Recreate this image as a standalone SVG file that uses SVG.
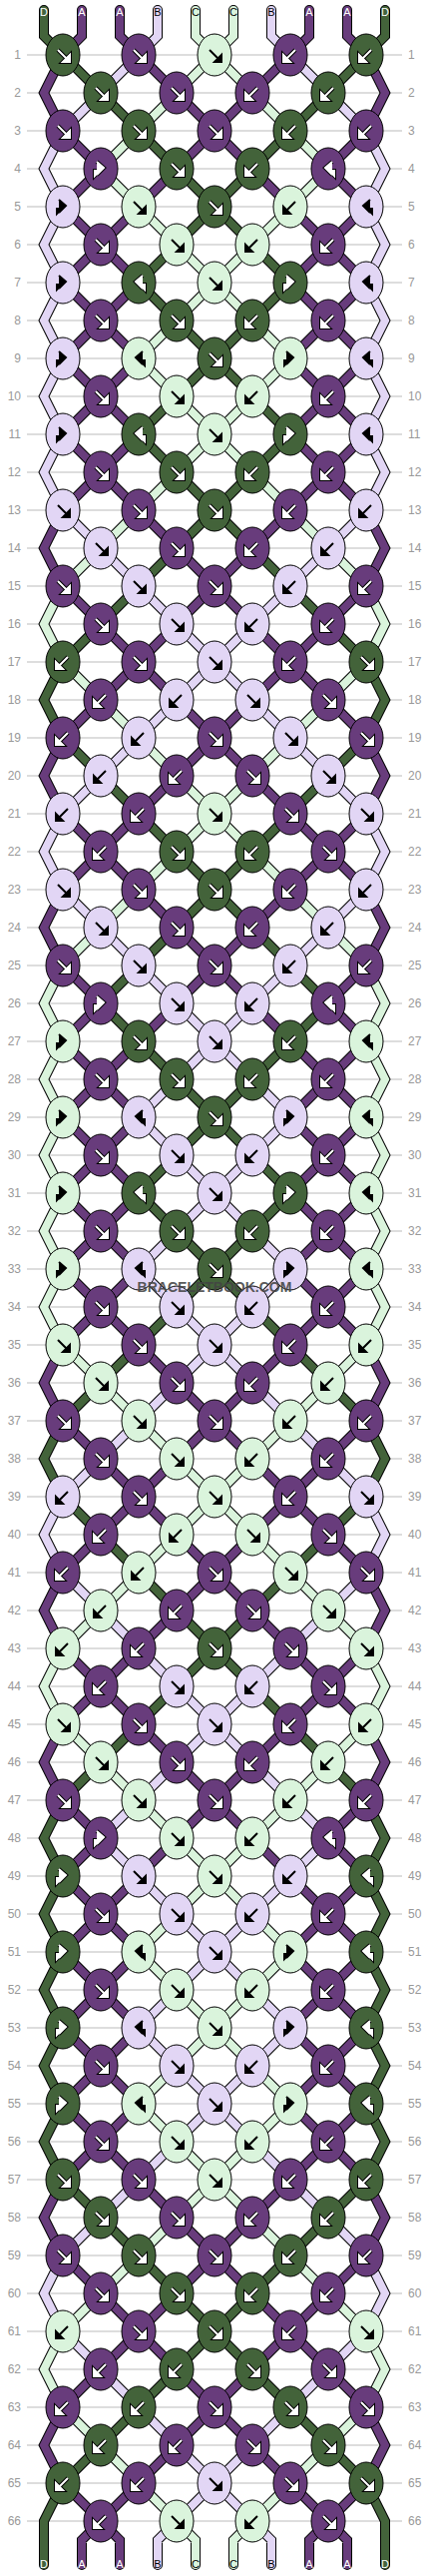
<svg xmlns="http://www.w3.org/2000/svg" xmlns:xlink="http://www.w3.org/1999/xlink" width="430" height="2580" viewBox="0 0 430 2580">
<style>
text{font-family:"Liberation Sans",Arial,sans-serif}
.n{font-size:12px;fill:#999}
.lb{font-size:11px;text-anchor:middle}
.aG{--a:#43633A}.aP{--a:#683C7C}.aL{--a:#E2D6F5}.aM{--a:#DAF4DC}
.bG{--b:#43633A}.bP{--b:#683C7C}.bL{--b:#E2D6F5}.bM{--b:#DAF4DC}
.cG{--c:#43633A}.cP{--c:#683C7C}.cL{--c:#E2D6F5}.cM{--c:#DAF4DC}
.dG{--d:#43633A}.dP{--d:#683C7C}.dL{--d:#E2D6F5}.dM{--d:#DAF4DC}
.eG{--e:#43633A}.eP{--e:#683C7C}.eL{--e:#E2D6F5}.eM{--e:#DAF4DC}
</style>
<defs>
<path id="o1" d="M63 0l-19 38 19 38M367 0l19 38-19 38"/>
<path id="o2" d="M63 0l38 38M367 0l-38 38"/>
<path id="o3" d="M139 0l-38 38M291 0l38 38"/>
<path id="o4" d="M139 0l38 38M291 0l-38 38"/>
<path id="o5" d="M215 0l-38 38M215 0l38 38"/>
<path id="e2" d="M101 0l-38 38M329 0l38 38"/>
<path id="e3" d="M101 0l38 38M329 0l-38 38"/>
<path id="e4" d="M177 0l-38 38M253 0l38 38"/>
<path id="e5" d="M177 0l38 38M253 0l-38 38"/>
<g id="O" fill="none" stroke-linecap="round">
<g stroke="#000" stroke-width="10"><use href="#o1"/><use href="#o2"/><use href="#o3"/><use href="#o4"/><use href="#o5"/></g>
<g stroke-width="8"><use href="#o1" style="stroke:var(--a)"/><use href="#o2" style="stroke:var(--b)"/><use href="#o3" style="stroke:var(--c)"/><use href="#o4" style="stroke:var(--d)"/><use href="#o5" style="stroke:var(--e)"/></g>
</g>
<g id="E" fill="none" stroke-linecap="round">
<g stroke="#000" stroke-width="10"><use href="#e2"/><use href="#e3"/><use href="#e4"/><use href="#e5"/></g>
<g stroke-width="8"><use href="#e2" style="stroke:var(--b)"/><use href="#e3" style="stroke:var(--c)"/><use href="#e4" style="stroke:var(--d)"/><use href="#e5" style="stroke:var(--e)"/></g>
</g>
<path id="tG" d="M44 10V36L63 55M386 10V36L367 55M63 2487L44 2525V2569M367 2487L386 2525V2569"/>
<path id="tP" d="M82 10V36L63 55M120 10V36L139 55M310 10V36L291 55M348 10V36L367 55M63 2487l38 38M367 2487l-38 38M139 2487l-38 38M291 2487l38 38M101 2525l-19 19V2569M101 2525l19 19V2569M329 2525l-19 19V2569M329 2525l19 19V2569"/>
<path id="tL" d="M158 10V36L139 55M272 10V36L291 55M215 2487l-38 38M215 2487l38 38M177 2525l-19 19V2569M253 2525l19 19V2569"/>
<path id="tM" d="M196 10V36L215 55M234 10V36L215 55M139 2487l38 38M291 2487l-38 38M177 2525l19 19V2569M253 2525l-19 19V2569"/>
<path id="aF" d="M-5-5L4 4M7 0V7H0Z"/>
<path id="aB" d="M5-5L-4 4M-7 0V7H0Z"/>
<path id="aX" d="M-4-7L3-1-4 6M-6 7V2H-1Z"/>
<path id="aY" d="M4-7L-3-1 4 6M6 7V2H1Z"/>
<g id="wF"><use href="#aF" fill="#000" stroke="#000" stroke-width="4"/><use href="#aF" fill="#fff" stroke="#fff" stroke-width="2"/></g>
<g id="wB"><use href="#aB" fill="#000" stroke="#000" stroke-width="4"/><use href="#aB" fill="#fff" stroke="#fff" stroke-width="2"/></g>
<g id="wX"><use href="#aX" fill="#000" stroke="#000" stroke-width="4"/><use href="#aX" fill="#fff" stroke="#fff" stroke-width="2"/></g>
<g id="wY"><use href="#aY" fill="#000" stroke="#000" stroke-width="4"/><use href="#aY" fill="#fff" stroke="#fff" stroke-width="2"/></g>
<ellipse id="eG" rx="17" ry="21" fill="#43633A" stroke="#000"/>
<ellipse id="eP" rx="17" ry="21" fill="#683C7C" stroke="#000"/>
<ellipse id="eL" rx="17" ry="21" fill="#E2D6F5" stroke="#000"/>
<ellipse id="eM" rx="17" ry="21" fill="#DAF4DC" stroke="#000"/>
<g id="GF"><use href="#eG"/><use href="#wF"/></g>
<g id="GB"><use href="#eG"/><use href="#wB"/></g>
<g id="GX"><use href="#eG"/><use href="#wX"/></g>
<g id="GY"><use href="#eG"/><use href="#wY"/></g>
<g id="PF"><use href="#eP"/><use href="#wF"/></g>
<g id="PB"><use href="#eP"/><use href="#wB"/></g>
<g id="PX"><use href="#eP"/><use href="#wX"/></g>
<g id="PY"><use href="#eP"/><use href="#wY"/></g>
<g id="LF"><use href="#eL"/><use href="#aF" fill="#000" stroke="#000" stroke-width="2"/></g>
<g id="LB"><use href="#eL"/><use href="#aB" fill="#000" stroke="#000" stroke-width="2"/></g>
<g id="LX"><use href="#eL"/><use href="#aX" fill="#000" stroke="#000" stroke-width="2"/></g>
<g id="LY"><use href="#eL"/><use href="#aY" fill="#000" stroke="#000" stroke-width="2"/></g>
<g id="MF"><use href="#eM"/><use href="#aF" fill="#000" stroke="#000" stroke-width="2"/></g>
<g id="MB"><use href="#eM"/><use href="#aB" fill="#000" stroke="#000" stroke-width="2"/></g>
<g id="MX"><use href="#eM"/><use href="#aX" fill="#000" stroke="#000" stroke-width="2"/></g>
<g id="MY"><use href="#eM"/><use href="#aY" fill="#000" stroke="#000" stroke-width="2"/></g>
</defs>
<rect width="430" height="2580" fill="#fff"/>
<line id="rowlines" x1="215" y1="54.5" x2="215" y2="2526" stroke="#bbb" stroke-width="376" stroke-dasharray="1 37"/>
<text class="n" text-anchor="end"><tspan x="21" y="59">1</tspan><tspan x="21" dy="38">2</tspan><tspan x="21" dy="38">3</tspan><tspan x="21" dy="38">4</tspan><tspan x="21" dy="38">5</tspan><tspan x="21" dy="38">6</tspan><tspan x="21" dy="38">7</tspan><tspan x="21" dy="38">8</tspan><tspan x="21" dy="38">9</tspan><tspan x="21" dy="38">10</tspan><tspan x="21" dy="38">11</tspan><tspan x="21" dy="38">12</tspan><tspan x="21" dy="38">13</tspan><tspan x="21" dy="38">14</tspan><tspan x="21" dy="38">15</tspan><tspan x="21" dy="38">16</tspan><tspan x="21" dy="38">17</tspan><tspan x="21" dy="38">18</tspan><tspan x="21" dy="38">19</tspan><tspan x="21" dy="38">20</tspan><tspan x="21" dy="38">21</tspan><tspan x="21" dy="38">22</tspan><tspan x="21" dy="38">23</tspan><tspan x="21" dy="38">24</tspan><tspan x="21" dy="38">25</tspan><tspan x="21" dy="38">26</tspan><tspan x="21" dy="38">27</tspan><tspan x="21" dy="38">28</tspan><tspan x="21" dy="38">29</tspan><tspan x="21" dy="38">30</tspan><tspan x="21" dy="38">31</tspan><tspan x="21" dy="38">32</tspan><tspan x="21" dy="38">33</tspan><tspan x="21" dy="38">34</tspan><tspan x="21" dy="38">35</tspan><tspan x="21" dy="38">36</tspan><tspan x="21" dy="38">37</tspan><tspan x="21" dy="38">38</tspan><tspan x="21" dy="38">39</tspan><tspan x="21" dy="38">40</tspan><tspan x="21" dy="38">41</tspan><tspan x="21" dy="38">42</tspan><tspan x="21" dy="38">43</tspan><tspan x="21" dy="38">44</tspan><tspan x="21" dy="38">45</tspan><tspan x="21" dy="38">46</tspan><tspan x="21" dy="38">47</tspan><tspan x="21" dy="38">48</tspan><tspan x="21" dy="38">49</tspan><tspan x="21" dy="38">50</tspan><tspan x="21" dy="38">51</tspan><tspan x="21" dy="38">52</tspan><tspan x="21" dy="38">53</tspan><tspan x="21" dy="38">54</tspan><tspan x="21" dy="38">55</tspan><tspan x="21" dy="38">56</tspan><tspan x="21" dy="38">57</tspan><tspan x="21" dy="38">58</tspan><tspan x="21" dy="38">59</tspan><tspan x="21" dy="38">60</tspan><tspan x="21" dy="38">61</tspan><tspan x="21" dy="38">62</tspan><tspan x="21" dy="38">63</tspan><tspan x="21" dy="38">64</tspan><tspan x="21" dy="38">65</tspan><tspan x="21" dy="38">66</tspan></text>
<text class="n"><tspan x="409" y="59">1</tspan><tspan x="409" dy="38">2</tspan><tspan x="409" dy="38">3</tspan><tspan x="409" dy="38">4</tspan><tspan x="409" dy="38">5</tspan><tspan x="409" dy="38">6</tspan><tspan x="409" dy="38">7</tspan><tspan x="409" dy="38">8</tspan><tspan x="409" dy="38">9</tspan><tspan x="409" dy="38">10</tspan><tspan x="409" dy="38">11</tspan><tspan x="409" dy="38">12</tspan><tspan x="409" dy="38">13</tspan><tspan x="409" dy="38">14</tspan><tspan x="409" dy="38">15</tspan><tspan x="409" dy="38">16</tspan><tspan x="409" dy="38">17</tspan><tspan x="409" dy="38">18</tspan><tspan x="409" dy="38">19</tspan><tspan x="409" dy="38">20</tspan><tspan x="409" dy="38">21</tspan><tspan x="409" dy="38">22</tspan><tspan x="409" dy="38">23</tspan><tspan x="409" dy="38">24</tspan><tspan x="409" dy="38">25</tspan><tspan x="409" dy="38">26</tspan><tspan x="409" dy="38">27</tspan><tspan x="409" dy="38">28</tspan><tspan x="409" dy="38">29</tspan><tspan x="409" dy="38">30</tspan><tspan x="409" dy="38">31</tspan><tspan x="409" dy="38">32</tspan><tspan x="409" dy="38">33</tspan><tspan x="409" dy="38">34</tspan><tspan x="409" dy="38">35</tspan><tspan x="409" dy="38">36</tspan><tspan x="409" dy="38">37</tspan><tspan x="409" dy="38">38</tspan><tspan x="409" dy="38">39</tspan><tspan x="409" dy="38">40</tspan><tspan x="409" dy="38">41</tspan><tspan x="409" dy="38">42</tspan><tspan x="409" dy="38">43</tspan><tspan x="409" dy="38">44</tspan><tspan x="409" dy="38">45</tspan><tspan x="409" dy="38">46</tspan><tspan x="409" dy="38">47</tspan><tspan x="409" dy="38">48</tspan><tspan x="409" dy="38">49</tspan><tspan x="409" dy="38">50</tspan><tspan x="409" dy="38">51</tspan><tspan x="409" dy="38">52</tspan><tspan x="409" dy="38">53</tspan><tspan x="409" dy="38">54</tspan><tspan x="409" dy="38">55</tspan><tspan x="409" dy="38">56</tspan><tspan x="409" dy="38">57</tspan><tspan x="409" dy="38">58</tspan><tspan x="409" dy="38">59</tspan><tspan x="409" dy="38">60</tspan><tspan x="409" dy="38">61</tspan><tspan x="409" dy="38">62</tspan><tspan x="409" dy="38">63</tspan><tspan x="409" dy="38">64</tspan><tspan x="409" dy="38">65</tspan><tspan x="409" dy="38">66</tspan></text>
<g id="connectors">
<use href="#O" y="55" class="aP bG cL dP eM"/>
<use href="#E" y="93" class="bL cG dM eP"/>
<use href="#O" y="131" class="aL bP cM dG eP"/>
<use href="#E" y="169" class="bP cM dP eG"/>
<use href="#O" y="207" class="aL bP cP dM eG"/>
<use href="#E" y="245" class="bP cP dG eM"/>
<use href="#O" y="283" class="aL bP cP dG eM"/>
<use href="#E" y="321" class="bP cP dM eG"/>
<use href="#O" y="359" class="aL bP cP dM eG"/>
<use href="#E" y="397" class="bP cP dG eM"/>
<use href="#O" y="435" class="aL bP cP dG eM"/>
<use href="#E" y="473" class="bP cP dM eG"/>
<use href="#O" y="511" class="aP bL cM dP eG"/>
<use href="#E" y="549" class="bM cL dG eP"/>
<use href="#O" y="587" class="aM bP cG dL eP"/>
<use href="#E" y="625" class="bG cP dP eL"/>
<use href="#O" y="663" class="aG bM cP dP eL"/>
<use href="#E" y="701" class="bP cM dL eP"/>
<use href="#O" y="739" class="aP bG cL dM eP"/>
<use href="#E" y="777" class="bL cG dP eM"/>
<use href="#O" y="815" class="aL bP cP dG eM"/>
<use href="#E" y="853" class="bP cP dM eG"/>
<use href="#O" y="891" class="aP bL cM dP eG"/>
<use href="#E" y="929" class="bM cL dG eP"/>
<use href="#O" y="967" class="aM bP cG dL eP"/>
<use href="#E" y="1005" class="bP cG dP eL"/>
<use href="#O" y="1043" class="aM bP cP dG eL"/>
<use href="#E" y="1081" class="bP cP dL eG"/>
<use href="#O" y="1119" class="aM bP cP dL eG"/>
<use href="#E" y="1157" class="bP cP dG eL"/>
<use href="#O" y="1195" class="aM bP cP dG eL"/>
<use href="#E" y="1233" class="bP cP dL eG"/>
<use href="#O" y="1271" class="aM bP cP dL eG"/>
<use href="#E" y="1309" class="bP cP dG eL"/>
<use href="#O" y="1347" class="aP bM cG dP eL"/>
<use href="#E" y="1385" class="bG cM dL eP"/>
<use href="#O" y="1423" class="aG bP cL dM eP"/>
<use href="#E" y="1461" class="bL cP dP eM"/>
<use href="#O" y="1499" class="aL bG cP dP eM"/>
<use href="#E" y="1537" class="bP cG dM eP"/>
<use href="#O" y="1575" class="aP bL cM dG eP"/>
<use href="#E" y="1613" class="bM cL dP eG"/>
<use href="#O" y="1651" class="aM bP cP dL eG"/>
<use href="#E" y="1689" class="bP cP dG eL"/>
<use href="#O" y="1727" class="aP bM cG dP eL"/>
<use href="#E" y="1765" class="bG cM dL eP"/>
<use href="#O" y="1803" class="aG bP cL dM eP"/>
<use href="#E" y="1841" class="bP cL dP eM"/>
<use href="#O" y="1879" class="aG bP cP dL eM"/>
<use href="#E" y="1917" class="bP cP dM eL"/>
<use href="#O" y="1955" class="aG bP cP dM eL"/>
<use href="#E" y="1993" class="bP cP dL eM"/>
<use href="#O" y="2031" class="aG bP cP dL eM"/>
<use href="#E" y="2069" class="bP cP dM eL"/>
<use href="#O" y="2107" class="aG bP cP dM eL"/>
<use href="#E" y="2145" class="bP cP dL eM"/>
<use href="#O" y="2183" class="aP bG cL dP eM"/>
<use href="#E" y="2221" class="bL cG dM eP"/>
<use href="#O" y="2259" class="aL bP cM dG eP"/>
<use href="#E" y="2297" class="bM cP dP eG"/>
<use href="#O" y="2335" class="aM bL cP dP eG"/>
<use href="#E" y="2373" class="bP cL dG eP"/>
<use href="#O" y="2411" class="aP bM cG dL eP"/>
<use href="#E" y="2449" class="bG cM dP eL"/>
<g fill="none" stroke-linecap="round">
<g stroke="#000" stroke-width="10"><use href="#tG"/><use href="#tP"/><use href="#tL"/><use href="#tM"/></g>
<g stroke-width="8"><use href="#tG" stroke="#43633A"/><use href="#tP" stroke="#683C7C"/><use href="#tL" stroke="#E2D6F5"/><use href="#tM" stroke="#DAF4DC"/></g>
</g>
</g>
<g id="labels" class="lb">
<text x="44" y="16" fill="#fff">D</text><text x="82" y="16" fill="#fff">A</text><text x="120" y="16" fill="#fff">A</text><text x="158" y="16">B</text><text x="196" y="16">C</text><text x="234" y="16">C</text><text x="272" y="16">B</text><text x="310" y="16" fill="#fff">A</text><text x="348" y="16" fill="#fff">A</text><text x="386" y="16" fill="#fff">D</text>
<text x="44" y="2572" fill="#fff">D</text><text x="82" y="2572" fill="#fff">A</text><text x="120" y="2572" fill="#fff">A</text><text x="158" y="2572">B</text><text x="196" y="2572">C</text><text x="234" y="2572">C</text><text x="272" y="2572">B</text><text x="310" y="2572" fill="#fff">A</text><text x="348" y="2572" fill="#fff">A</text><text x="386" y="2572" fill="#fff">D</text>
</g>
<g id="knots">
<g id="r1" transform="translate(0 55)"><use id="k1-1" href="#GF" x="63"/><use id="k1-2" href="#PF" x="139"/><use id="k1-3" href="#MF" x="215"/><use id="k1-4" href="#PB" x="291"/><use id="k1-5" href="#GB" x="367"/></g>
<g id="r2" transform="translate(0 93)"><use id="k2-1" href="#GF" x="101"/><use id="k2-2" href="#PF" x="177"/><use id="k2-3" href="#PB" x="253"/><use id="k2-4" href="#GB" x="329"/></g>
<g id="r3" transform="translate(0 131)"><use id="k3-1" href="#PF" x="63"/><use id="k3-2" href="#GF" x="139"/><use id="k3-3" href="#PF" x="215"/><use id="k3-4" href="#GB" x="291"/><use id="k3-5" href="#PB" x="367"/></g>
<g id="r4" transform="translate(0 169)"><use id="k4-1" href="#PX" x="101"/><use id="k4-2" href="#GF" x="177"/><use id="k4-3" href="#GB" x="253"/><use id="k4-4" href="#PY" x="329"/></g>
<g id="r5" transform="translate(0 207)"><use id="k5-1" href="#LX" x="63"/><use id="k5-2" href="#MF" x="139"/><use id="k5-3" href="#GF" x="215"/><use id="k5-4" href="#MB" x="291"/><use id="k5-5" href="#LY" x="367"/></g>
<g id="r6" transform="translate(0 245)"><use id="k6-1" href="#PF" x="101"/><use id="k6-2" href="#MF" x="177"/><use id="k6-3" href="#MB" x="253"/><use id="k6-4" href="#PB" x="329"/></g>
<g id="r7" transform="translate(0 283)"><use id="k7-1" href="#LX" x="63"/><use id="k7-2" href="#GY" x="139"/><use id="k7-3" href="#MF" x="215"/><use id="k7-4" href="#GX" x="291"/><use id="k7-5" href="#LY" x="367"/></g>
<g id="r8" transform="translate(0 321)"><use id="k8-1" href="#PF" x="101"/><use id="k8-2" href="#GF" x="177"/><use id="k8-3" href="#GB" x="253"/><use id="k8-4" href="#PB" x="329"/></g>
<g id="r9" transform="translate(0 359)"><use id="k9-1" href="#LX" x="63"/><use id="k9-2" href="#MY" x="139"/><use id="k9-3" href="#GF" x="215"/><use id="k9-4" href="#MX" x="291"/><use id="k9-5" href="#LY" x="367"/></g>
<g id="r10" transform="translate(0 397)"><use id="k10-1" href="#PF" x="101"/><use id="k10-2" href="#MF" x="177"/><use id="k10-3" href="#MB" x="253"/><use id="k10-4" href="#PB" x="329"/></g>
<g id="r11" transform="translate(0 435)"><use id="k11-1" href="#LX" x="63"/><use id="k11-2" href="#GY" x="139"/><use id="k11-3" href="#MF" x="215"/><use id="k11-4" href="#GX" x="291"/><use id="k11-5" href="#LY" x="367"/></g>
<g id="r12" transform="translate(0 473)"><use id="k12-1" href="#PF" x="101"/><use id="k12-2" href="#GF" x="177"/><use id="k12-3" href="#GB" x="253"/><use id="k12-4" href="#PB" x="329"/></g>
<g id="r13" transform="translate(0 511)"><use id="k13-1" href="#LF" x="63"/><use id="k13-2" href="#PF" x="139"/><use id="k13-3" href="#GF" x="215"/><use id="k13-4" href="#PB" x="291"/><use id="k13-5" href="#LB" x="367"/></g>
<g id="r14" transform="translate(0 549)"><use id="k14-1" href="#LF" x="101"/><use id="k14-2" href="#PF" x="177"/><use id="k14-3" href="#PB" x="253"/><use id="k14-4" href="#LB" x="329"/></g>
<g id="r15" transform="translate(0 587)"><use id="k15-1" href="#PF" x="63"/><use id="k15-2" href="#LF" x="139"/><use id="k15-3" href="#PF" x="215"/><use id="k15-4" href="#LB" x="291"/><use id="k15-5" href="#PB" x="367"/></g>
<g id="r16" transform="translate(0 625)"><use id="k16-1" href="#PF" x="101"/><use id="k16-2" href="#LF" x="177"/><use id="k16-3" href="#LB" x="253"/><use id="k16-4" href="#PB" x="329"/></g>
<g id="r17" transform="translate(0 663)"><use id="k17-1" href="#GB" x="63"/><use id="k17-2" href="#PF" x="139"/><use id="k17-3" href="#LF" x="215"/><use id="k17-4" href="#PB" x="291"/><use id="k17-5" href="#GF" x="367"/></g>
<g id="r18" transform="translate(0 701)"><use id="k18-1" href="#PB" x="101"/><use id="k18-2" href="#LB" x="177"/><use id="k18-3" href="#LF" x="253"/><use id="k18-4" href="#PF" x="329"/></g>
<g id="r19" transform="translate(0 739)"><use id="k19-1" href="#PB" x="63"/><use id="k19-2" href="#LB" x="139"/><use id="k19-3" href="#PF" x="215"/><use id="k19-4" href="#LF" x="291"/><use id="k19-5" href="#PF" x="367"/></g>
<g id="r20" transform="translate(0 777)"><use id="k20-1" href="#LB" x="101"/><use id="k20-2" href="#PB" x="177"/><use id="k20-3" href="#PF" x="253"/><use id="k20-4" href="#LF" x="329"/></g>
<g id="r21" transform="translate(0 815)"><use id="k21-1" href="#LB" x="63"/><use id="k21-2" href="#PB" x="139"/><use id="k21-3" href="#MF" x="215"/><use id="k21-4" href="#PF" x="291"/><use id="k21-5" href="#LF" x="367"/></g>
<g id="r22" transform="translate(0 853)"><use id="k22-1" href="#PB" x="101"/><use id="k22-2" href="#GF" x="177"/><use id="k22-3" href="#GB" x="253"/><use id="k22-4" href="#PF" x="329"/></g>
<g id="r23" transform="translate(0 891)"><use id="k23-1" href="#LF" x="63"/><use id="k23-2" href="#PF" x="139"/><use id="k23-3" href="#GF" x="215"/><use id="k23-4" href="#PB" x="291"/><use id="k23-5" href="#LB" x="367"/></g>
<g id="r24" transform="translate(0 929)"><use id="k24-1" href="#LF" x="101"/><use id="k24-2" href="#PF" x="177"/><use id="k24-3" href="#PB" x="253"/><use id="k24-4" href="#LB" x="329"/></g>
<g id="r25" transform="translate(0 967)"><use id="k25-1" href="#PF" x="63"/><use id="k25-2" href="#LF" x="139"/><use id="k25-3" href="#PF" x="215"/><use id="k25-4" href="#LB" x="291"/><use id="k25-5" href="#PB" x="367"/></g>
<g id="r26" transform="translate(0 1005)"><use id="k26-1" href="#PX" x="101"/><use id="k26-2" href="#LF" x="177"/><use id="k26-3" href="#LB" x="253"/><use id="k26-4" href="#PY" x="329"/></g>
<g id="r27" transform="translate(0 1043)"><use id="k27-1" href="#MX" x="63"/><use id="k27-2" href="#GF" x="139"/><use id="k27-3" href="#LF" x="215"/><use id="k27-4" href="#GB" x="291"/><use id="k27-5" href="#MY" x="367"/></g>
<g id="r28" transform="translate(0 1081)"><use id="k28-1" href="#PF" x="101"/><use id="k28-2" href="#GF" x="177"/><use id="k28-3" href="#GB" x="253"/><use id="k28-4" href="#PB" x="329"/></g>
<g id="r29" transform="translate(0 1119)"><use id="k29-1" href="#MX" x="63"/><use id="k29-2" href="#LY" x="139"/><use id="k29-3" href="#GF" x="215"/><use id="k29-4" href="#LX" x="291"/><use id="k29-5" href="#MY" x="367"/></g>
<g id="r30" transform="translate(0 1157)"><use id="k30-1" href="#PF" x="101"/><use id="k30-2" href="#LF" x="177"/><use id="k30-3" href="#LB" x="253"/><use id="k30-4" href="#PB" x="329"/></g>
<g id="r31" transform="translate(0 1195)"><use id="k31-1" href="#MX" x="63"/><use id="k31-2" href="#GY" x="139"/><use id="k31-3" href="#LF" x="215"/><use id="k31-4" href="#GX" x="291"/><use id="k31-5" href="#MY" x="367"/></g>
<g id="r32" transform="translate(0 1233)"><use id="k32-1" href="#PF" x="101"/><use id="k32-2" href="#GF" x="177"/><use id="k32-3" href="#GB" x="253"/><use id="k32-4" href="#PB" x="329"/></g>
<g id="r33" transform="translate(0 1271)"><use id="k33-1" href="#MX" x="63"/><use id="k33-2" href="#LY" x="139"/><use id="k33-3" href="#GF" x="215"/><use id="k33-4" href="#LX" x="291"/><use id="k33-5" href="#MY" x="367"/></g>
<g id="r34" transform="translate(0 1309)"><use id="k34-1" href="#PF" x="101"/><use id="k34-2" href="#LF" x="177"/><use id="k34-3" href="#LB" x="253"/><use id="k34-4" href="#PB" x="329"/></g>
<g id="r35" transform="translate(0 1347)"><use id="k35-1" href="#MF" x="63"/><use id="k35-2" href="#PF" x="139"/><use id="k35-3" href="#LF" x="215"/><use id="k35-4" href="#PB" x="291"/><use id="k35-5" href="#MB" x="367"/></g>
<g id="r36" transform="translate(0 1385)"><use id="k36-1" href="#MF" x="101"/><use id="k36-2" href="#PF" x="177"/><use id="k36-3" href="#PB" x="253"/><use id="k36-4" href="#MB" x="329"/></g>
<g id="r37" transform="translate(0 1423)"><use id="k37-1" href="#PF" x="63"/><use id="k37-2" href="#MF" x="139"/><use id="k37-3" href="#PF" x="215"/><use id="k37-4" href="#MB" x="291"/><use id="k37-5" href="#PB" x="367"/></g>
<g id="r38" transform="translate(0 1461)"><use id="k38-1" href="#PF" x="101"/><use id="k38-2" href="#MF" x="177"/><use id="k38-3" href="#MB" x="253"/><use id="k38-4" href="#PB" x="329"/></g>
<g id="r39" transform="translate(0 1499)"><use id="k39-1" href="#LB" x="63"/><use id="k39-2" href="#PF" x="139"/><use id="k39-3" href="#MF" x="215"/><use id="k39-4" href="#PB" x="291"/><use id="k39-5" href="#LF" x="367"/></g>
<g id="r40" transform="translate(0 1537)"><use id="k40-1" href="#PB" x="101"/><use id="k40-2" href="#MB" x="177"/><use id="k40-3" href="#MF" x="253"/><use id="k40-4" href="#PF" x="329"/></g>
<g id="r41" transform="translate(0 1575)"><use id="k41-1" href="#PB" x="63"/><use id="k41-2" href="#MB" x="139"/><use id="k41-3" href="#PF" x="215"/><use id="k41-4" href="#MF" x="291"/><use id="k41-5" href="#PF" x="367"/></g>
<g id="r42" transform="translate(0 1613)"><use id="k42-1" href="#MB" x="101"/><use id="k42-2" href="#PB" x="177"/><use id="k42-3" href="#PF" x="253"/><use id="k42-4" href="#MF" x="329"/></g>
<g id="r43" transform="translate(0 1651)"><use id="k43-1" href="#MB" x="63"/><use id="k43-2" href="#PB" x="139"/><use id="k43-3" href="#GF" x="215"/><use id="k43-4" href="#PF" x="291"/><use id="k43-5" href="#MF" x="367"/></g>
<g id="r44" transform="translate(0 1689)"><use id="k44-1" href="#PB" x="101"/><use id="k44-2" href="#LF" x="177"/><use id="k44-3" href="#LB" x="253"/><use id="k44-4" href="#PF" x="329"/></g>
<g id="r45" transform="translate(0 1727)"><use id="k45-1" href="#MF" x="63"/><use id="k45-2" href="#PF" x="139"/><use id="k45-3" href="#LF" x="215"/><use id="k45-4" href="#PB" x="291"/><use id="k45-5" href="#MB" x="367"/></g>
<g id="r46" transform="translate(0 1765)"><use id="k46-1" href="#MF" x="101"/><use id="k46-2" href="#PF" x="177"/><use id="k46-3" href="#PB" x="253"/><use id="k46-4" href="#MB" x="329"/></g>
<g id="r47" transform="translate(0 1803)"><use id="k47-1" href="#PF" x="63"/><use id="k47-2" href="#MF" x="139"/><use id="k47-3" href="#PF" x="215"/><use id="k47-4" href="#MB" x="291"/><use id="k47-5" href="#PB" x="367"/></g>
<g id="r48" transform="translate(0 1841)"><use id="k48-1" href="#PX" x="101"/><use id="k48-2" href="#MF" x="177"/><use id="k48-3" href="#MB" x="253"/><use id="k48-4" href="#PY" x="329"/></g>
<g id="r49" transform="translate(0 1879)"><use id="k49-1" href="#GX" x="63"/><use id="k49-2" href="#LF" x="139"/><use id="k49-3" href="#MF" x="215"/><use id="k49-4" href="#LB" x="291"/><use id="k49-5" href="#GY" x="367"/></g>
<g id="r50" transform="translate(0 1917)"><use id="k50-1" href="#PF" x="101"/><use id="k50-2" href="#LF" x="177"/><use id="k50-3" href="#LB" x="253"/><use id="k50-4" href="#PB" x="329"/></g>
<g id="r51" transform="translate(0 1955)"><use id="k51-1" href="#GX" x="63"/><use id="k51-2" href="#MY" x="139"/><use id="k51-3" href="#LF" x="215"/><use id="k51-4" href="#MX" x="291"/><use id="k51-5" href="#GY" x="367"/></g>
<g id="r52" transform="translate(0 1993)"><use id="k52-1" href="#PF" x="101"/><use id="k52-2" href="#MF" x="177"/><use id="k52-3" href="#MB" x="253"/><use id="k52-4" href="#PB" x="329"/></g>
<g id="r53" transform="translate(0 2031)"><use id="k53-1" href="#GX" x="63"/><use id="k53-2" href="#LY" x="139"/><use id="k53-3" href="#MF" x="215"/><use id="k53-4" href="#LX" x="291"/><use id="k53-5" href="#GY" x="367"/></g>
<g id="r54" transform="translate(0 2069)"><use id="k54-1" href="#PF" x="101"/><use id="k54-2" href="#LF" x="177"/><use id="k54-3" href="#LB" x="253"/><use id="k54-4" href="#PB" x="329"/></g>
<g id="r55" transform="translate(0 2107)"><use id="k55-1" href="#GX" x="63"/><use id="k55-2" href="#MY" x="139"/><use id="k55-3" href="#LF" x="215"/><use id="k55-4" href="#MX" x="291"/><use id="k55-5" href="#GY" x="367"/></g>
<g id="r56" transform="translate(0 2145)"><use id="k56-1" href="#PF" x="101"/><use id="k56-2" href="#MF" x="177"/><use id="k56-3" href="#MB" x="253"/><use id="k56-4" href="#PB" x="329"/></g>
<g id="r57" transform="translate(0 2183)"><use id="k57-1" href="#GF" x="63"/><use id="k57-2" href="#PF" x="139"/><use id="k57-3" href="#MF" x="215"/><use id="k57-4" href="#PB" x="291"/><use id="k57-5" href="#GB" x="367"/></g>
<g id="r58" transform="translate(0 2221)"><use id="k58-1" href="#GF" x="101"/><use id="k58-2" href="#PF" x="177"/><use id="k58-3" href="#PB" x="253"/><use id="k58-4" href="#GB" x="329"/></g>
<g id="r59" transform="translate(0 2259)"><use id="k59-1" href="#PF" x="63"/><use id="k59-2" href="#GF" x="139"/><use id="k59-3" href="#PF" x="215"/><use id="k59-4" href="#GB" x="291"/><use id="k59-5" href="#PB" x="367"/></g>
<g id="r60" transform="translate(0 2297)"><use id="k60-1" href="#PF" x="101"/><use id="k60-2" href="#GF" x="177"/><use id="k60-3" href="#GB" x="253"/><use id="k60-4" href="#PB" x="329"/></g>
<g id="r61" transform="translate(0 2335)"><use id="k61-1" href="#MB" x="63"/><use id="k61-2" href="#PF" x="139"/><use id="k61-3" href="#GF" x="215"/><use id="k61-4" href="#PB" x="291"/><use id="k61-5" href="#MF" x="367"/></g>
<g id="r62" transform="translate(0 2373)"><use id="k62-1" href="#PB" x="101"/><use id="k62-2" href="#GB" x="177"/><use id="k62-3" href="#GF" x="253"/><use id="k62-4" href="#PF" x="329"/></g>
<g id="r63" transform="translate(0 2411)"><use id="k63-1" href="#PB" x="63"/><use id="k63-2" href="#GB" x="139"/><use id="k63-3" href="#PF" x="215"/><use id="k63-4" href="#GF" x="291"/><use id="k63-5" href="#PF" x="367"/></g>
<g id="r64" transform="translate(0 2449)"><use id="k64-1" href="#GB" x="101"/><use id="k64-2" href="#PB" x="177"/><use id="k64-3" href="#PF" x="253"/><use id="k64-4" href="#GF" x="329"/></g>
<g id="r65" transform="translate(0 2487)"><use id="k65-1" href="#GB" x="63"/><use id="k65-2" href="#PB" x="139"/><use id="k65-3" href="#LF" x="215"/><use id="k65-4" href="#PF" x="291"/><use id="k65-5" href="#GF" x="367"/></g>
<g id="r66" transform="translate(0 2525)"><use id="k66-1" href="#PB" x="101"/><use id="k66-2" href="#MF" x="177"/><use id="k66-3" href="#MB" x="253"/><use id="k66-4" href="#PF" x="329"/></g>
</g>
<text id="watermark" x="215" y="1294" text-anchor="middle" font-size="14" font-weight="bold" fill="#444" fill-opacity="0.9">BRACELETBOOK.COM</text>
</svg>
